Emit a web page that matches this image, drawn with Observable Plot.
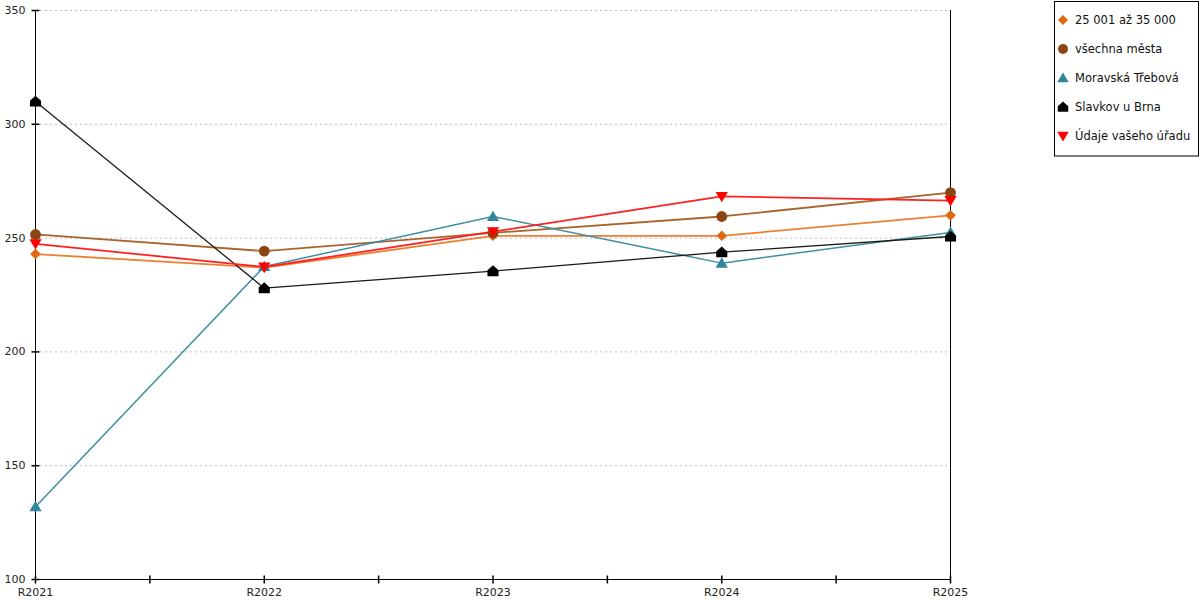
<!DOCTYPE html>
<html><head><meta charset="utf-8">
<script src="https://cdn.jsdelivr.net/npm/d3@7"></script>
<script src="https://cdn.jsdelivr.net/npm/@observablehq/plot@0.6"></script>
<style>body{margin:0;background:#fff} #chart svg{font-family:"DejaVu Sans",sans-serif}</style>
</head><body><div id="chart"></div>
<script>
const categories = ["R2021","R2022","R2023","R2024","R2025"];
const seriesNames = ["25 001 až 35 000","všechna města","Moravská Třebová","Slavkov u Brna","Údaje vašeho úřadu"];
const vals25001 = [243, 237, 251, 251, 260];
const valsVsechna = [251.6, 244.3, 252.3, 259.5, 270];
const valsMoravska = [132, 237.5, 259.5, 239, 252.5];
const valsSlavkov = [310, 228, 235.5, 243.8, 250.7];
const valsUdaje = [247.5, 237.3, 252.8, 268.3, 266.5];
const yTicks = [100,150,200,250,300,350];
const gridTicks = [150,200,250,300,350];

const seriesValues = [vals25001, valsVsechna, valsMoravska, valsSlavkov, valsUdaje];
const lineColors = ["#ec8030","#a8652e","#3f8fa3","#1a1a1a","#ff2020"];
const markColors = ["#e0680f","#8b4513","#31859c","#000000","#ff0000"];
const lineWidths = [1.8,1.8,1.5,1.3,1.8];

const symDiamond = {draw(c,s){const r=Math.sqrt(s/Math.PI);c.moveTo(0,-r);c.lineTo(r,0);c.lineTo(0,r);c.lineTo(-r,0);c.closePath();}};
const symTriUp = {draw(c,s){const r=Math.sqrt(s/Math.PI);c.moveTo(0,-r*1.1);c.lineTo(r*1.15,r*0.85);c.lineTo(-r*1.15,r*0.85);c.closePath();}};
const symTriDown = {draw(c,s){const r=Math.sqrt(s/Math.PI);c.moveTo(-r*1.15,-r*0.85);c.lineTo(r*1.15,-r*0.85);c.lineTo(0,r*1.1);c.closePath();}};
const symHouse = {draw(c,s){const r=Math.sqrt(s/Math.PI);c.moveTo(0,-r*1.1);c.lineTo(r*1.05,-r*0.15);c.lineTo(r*1.05,r*0.95);c.lineTo(-r*1.05,r*0.95);c.lineTo(-r*1.05,-r*0.15);c.closePath();}};
const symbols = [symDiamond, "circle", symTriUp, symHouse, symTriDown];
const markR = [5.3, 5.4, 5.3, 5.3, 5.3];

const vTick = {draw(c){c.moveTo(0,-4);c.lineTo(0,4);}};
const hTick = {draw(c){c.moveTo(-4,0);c.lineTo(4,0);}};

const rows = seriesValues.map((vals, s) => vals.map((v, i) => ({s, i, v}))).flat();
const xTickVals = d3.range(0, categories.length - 0.99, 0.5);

const marks = [
  Plot.ruleY(gridTicks, {stroke:"#bdbdbd", strokeDasharray:"2,3"}),
  Plot.ruleX([0, categories.length - 1], {stroke:"#000"}),
  Plot.ruleY([yTicks[0]], {stroke:"#000"}),
  Plot.dot(xTickVals, {x: d => d, y: () => yTicks[0], symbol: vTick, stroke:"#000", fill:"none", r: 1}),
  Plot.dot(yTicks, {x: () => 0, y: d => d, symbol: hTick, stroke:"#000", fill:"none", r: 1}),
  Plot.axisX(d3.range(categories.length), {tickSize:0, tickPadding:9, tickFormat: i => categories[i], fontSize:11, fill:"#222", label:null}),
  Plot.axisY(yTicks, {tickSize:0, tickPadding:10, fontSize:11, fill:"#222", label:null})
];
seriesValues.forEach((vals, s) => {
  const data = rows.filter(d => d.s === s);
  marks.push(Plot.line(data, {x:"i", y:"v", stroke: lineColors[s], strokeWidth: lineWidths[s]}));
});
seriesValues.forEach((vals, s) => {
  const data = rows.filter(d => d.s === s);
  marks.push(Plot.dot(data, {x:"i", y:"v", symbol: symbols[s], fill: markColors[s], stroke:"none", r: markR[s]}));
});

const plot = Plot.plot({
  width: 1200, height: 600,
  marginLeft: 35, marginRight: 250, marginTop: 10, marginBottom: 21,
  x: {type:"linear", domain:[0, categories.length - 1], axis: null, label: null},
  y: {type:"linear", domain:[yTicks[0], yTicks[yTicks.length-1]], axis: null, label: null},
  style: {fontFamily:"DejaVu Sans", fontSize:"11px", color:"#222"},
  marks
});
document.getElementById("chart").appendChild(plot);

// legend
const svg = d3.select(plot);
const lg = svg.append("g").attr("class","legend").attr("text-anchor","start");
lg.append("rect").attr("x",1054.5).attr("y",1.5).attr("width",144).attr("height",154.5)
  .attr("fill","#fff").attr("stroke","#000").attr("stroke-width",1);
seriesNames.forEach((name, s) => {
  const y = 20 + 29 * s;
  const sym = symbols[s] === "circle" ? d3.symbolCircle : symbols[s];
  lg.append("path").attr("transform",`translate(1063,${y})`)
    .attr("d", d3.symbol(sym, Math.PI * 5 * 5)())
    .attr("fill", markColors[s]);
  lg.append("text").attr("x",1075).attr("y",y).attr("dy","0.35em").attr("text-anchor","start")
    .attr("font-size",11.5).attr("font-family","DejaVu Sans").attr("fill","#111").text(name);
});
</script>
</body></html>
